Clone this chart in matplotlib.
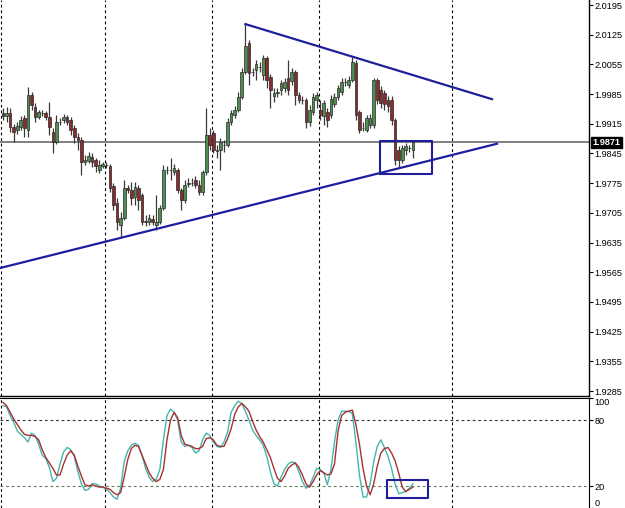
import matplotlib
matplotlib.use("Agg")
import matplotlib.pyplot as plt
import numpy as np

# --- price data (one candle per bar) ---
opens = [1.9940, 1.9933, 1.9940, 1.9907, 1.9900, 1.9907, 1.9929, 1.9900, 1.9983, 1.9955,
         1.9931, 1.9940, 1.9940, 1.9931, 1.9896, 1.9872, 1.9919, 1.9924, 1.9931, 1.9924,
         1.9905, 1.9884, 1.9877, 1.9825, 1.9827, 1.9837, 1.9830, 1.9806, 1.9816, 1.9818,
         1.9816, 1.9768, 1.9728, 1.9677, 1.9693, 1.9764, 1.9759, 1.9742, 1.9764, 1.9747,
         1.9686, 1.9684, 1.9691, 1.9677, 1.9684, 1.9717, 1.9806, 1.9806, 1.9801, 1.9806,
         1.9759, 1.9735, 1.9773, 1.9775, 1.9783, 1.9771, 1.9754, 1.9801, 1.9889, 1.9893,
         1.9853, 1.9853, 1.9865, 1.9865, 1.9919, 1.9936, 1.9948, 1.9978, 2.0037, 2.0105,
         2.0037, 2.0042, 2.0049, 2.0030, 2.0070, 2.0025, 1.9981, 1.9988, 1.9995, 1.9999,
         2.0023, 2.0016, 2.0037, 1.9983, 1.9971, 1.9971, 1.9919, 1.9943, 1.9971, 1.9948,
         1.9933, 1.9943, 1.9936, 1.9962, 1.9978, 1.9990, 2.0014, 2.0006, 2.0018, 2.0058,
         1.9943, 1.9905, 1.9900, 1.9912, 1.9912, 2.0018, 1.9995, 1.9988, 1.9971, 1.9971,
         1.9924, 1.9853, 1.9830, 1.9853, 1.9858, 1.9853]
closes = [1.9933, 1.9940, 1.9907, 1.9896, 1.9910, 1.9924, 1.9905, 1.9983, 1.9959, 1.9931,
          1.9943, 1.9941, 1.9931, 1.9907, 1.9872, 1.9919, 1.9920, 1.9931, 1.9919, 1.9900,
          1.9884, 1.9877, 1.9825, 1.9830, 1.9839, 1.9825, 1.9816, 1.9818, 1.9820, 1.9819,
          1.9764, 1.9724, 1.9684, 1.9693, 1.9764, 1.9759, 1.9740, 1.9766, 1.9735, 1.9684,
          1.9684, 1.9693, 1.9684, 1.9684, 1.9717, 1.9806, 1.9807, 1.9805, 1.9811, 1.9759,
          1.9735, 1.9771, 1.9775, 1.9776, 1.9771, 1.9754, 1.9801, 1.9889, 1.9865, 1.9853,
          1.9852, 1.9872, 1.9866, 1.9919, 1.9940, 1.9948, 1.9978, 2.0037, 2.0098, 2.0035,
          2.0036, 2.0056, 2.0048, 2.0070, 2.0018, 1.9995, 1.9988, 1.9989, 2.0011, 2.0014,
          1.9995, 2.0037, 1.9983, 1.9971, 1.9970, 1.9919, 1.9948, 1.9978, 1.9983, 1.9936,
          1.9964, 1.9924, 1.9973, 1.9978, 1.9999, 2.0014, 2.0013, 2.0018, 2.0061, 1.9936,
          1.9900, 1.9906, 1.9929, 1.9929, 2.0018, 1.9971, 1.9964, 1.9962, 1.9957, 1.9924,
          1.9830, 1.9830, 1.9858, 1.9863, 1.9859, 1.9871]
highs = [1.9952, 1.9955, 1.9952, 1.9915, 1.9919, 1.9933, 1.9936, 2.0002, 1.9990, 1.9964,
         1.9948, 1.9948, 1.9945, 1.9966, 1.9905, 1.9936, 1.9929, 1.9938, 1.9936, 1.9931,
         1.9912, 1.9893, 1.9884, 1.9841, 1.9849, 1.9846, 1.9834, 1.9830, 1.9825, 1.9825,
         1.9820, 1.9775, 1.9740, 1.9707, 1.9783, 1.9771, 1.9778, 1.9778, 1.9771, 1.9752,
         1.9700, 1.9702, 1.9700, 1.9747, 1.9724, 1.9818, 1.9816, 1.9834, 1.9820, 1.9811,
         1.9764, 1.9783, 1.9787, 1.9787, 1.9792, 1.9783, 1.9806, 1.9952, 1.9905, 1.9900,
         1.9865, 1.9882, 1.9877, 1.9929, 1.9948, 1.9957, 1.9990, 2.0047, 2.0150, 2.0113,
         2.0047, 2.0065, 2.0061, 2.0077, 2.0075, 2.0032, 1.9999, 1.9999, 2.0018, 2.0023,
         2.0065, 2.0047, 2.0042, 1.9990, 1.9981, 1.9976, 1.9959, 1.9988, 1.9990, 1.9971,
         1.9971, 1.9952, 1.9983, 1.9988, 2.0006, 2.0023, 2.0023, 2.0028, 2.0072, 2.0065,
         1.9948, 1.9919, 1.9936, 1.9938, 2.0023, 2.0023, 2.0004, 1.9995, 1.9981, 1.9981,
         1.9929, 1.9863, 1.9865, 1.9870, 1.9865, 1.9872]
lows = [1.9924, 1.9919, 1.9896, 1.9872, 1.9891, 1.9900, 1.9884, 1.9884, 1.9948, 1.9919,
        1.9926, 1.9933, 1.9924, 1.9889, 1.9846, 1.9867, 1.9912, 1.9917, 1.9912, 1.9889,
        1.9870, 1.9853, 1.9794, 1.9818, 1.9823, 1.9813, 1.9801, 1.9799, 1.9811, 1.9811,
        1.9754, 1.9712, 1.9665, 1.9648, 1.9688, 1.9752, 1.9724, 1.9724, 1.9712, 1.9677,
        1.9674, 1.9677, 1.9677, 1.9665, 1.9679, 1.9712, 1.9797, 1.9783, 1.9794, 1.9752,
        1.9712, 1.9728, 1.9766, 1.9768, 1.9764, 1.9747, 1.9747, 1.9794, 1.9853, 1.9846,
        1.9834, 1.9806, 1.9849, 1.9860, 1.9912, 1.9929, 1.9943, 1.9973, 2.0032, 2.0006,
        2.0028, 2.0018, 2.0037, 2.0018, 1.9999, 1.9952, 1.9966, 1.9978, 1.9983, 1.9990,
        1.9983, 2.0006, 1.9959, 1.9964, 1.9962, 1.9905, 1.9910, 1.9936, 1.9952, 1.9924,
        1.9912, 1.9907, 1.9929, 1.9955, 1.9971, 1.9983, 2.0004, 1.9999, 2.0014, 1.9924,
        1.9893, 1.9898, 1.9896, 1.9905, 1.9905, 1.9962, 1.9952, 1.9948, 1.9943, 1.9912,
        1.9818, 1.9813, 1.9823, 1.9841, 1.9849, 1.9834]

# stochastic oscillator, main (%K) and signal (%D)
stoch_main = [93, 92, 84, 78, 70, 67, 64, 60, 68, 66, 58, 48, 45, 37, 24, 27, 40, 51, 55, 53,
              47, 33, 22, 16, 17, 22, 22, 20, 19, 17, 14, 10, 8, 18, 42, 52, 57, 59, 57, 48,
              36, 28, 24, 26, 35, 62, 84, 90, 87, 80, 60, 56, 57, 55, 50, 52, 62, 68, 66, 60,
              56, 55, 60, 69, 87, 93, 97, 95, 88, 80, 71, 66, 62, 57, 47, 33, 22, 20, 28, 35,
              40, 42, 41, 33, 24, 18, 20, 28, 36, 35, 32, 21, 35, 60, 80, 88, 88, 88, 86, 60,
              30, 10, 10, 22, 42, 56, 62, 55, 47, 36, 22, 13, 14, 15, 18, 22]
stoch_signal = [96, 93, 87, 81, 76, 71, 67, 66, 66, 65, 62, 53, 46, 41, 36, 30, 30, 40, 48, 52,
                48, 38, 29, 21, 20, 21, 20, 19, 19, 18, 17, 14, 12, 14, 28, 44, 54, 57, 56, 48,
                40, 32, 27, 24, 26, 35, 62, 80, 87, 82, 66, 58, 57, 56, 54, 54, 56, 63, 64, 62,
                57, 56, 56, 63, 72, 85, 92, 95, 92, 88, 79, 71, 65, 60, 53, 46, 36, 27, 24, 29,
                36, 39, 41, 37, 30, 22, 19, 24, 30, 34, 32, 30, 31, 40, 70, 84, 87, 88, 89, 76,
                58, 36, 20, 12, 22, 38, 50, 54, 55, 50, 43, 32, 19, 15, 17, 19]

price_ticks = [2.0195, 2.0125, 2.0055, 1.9985, 1.9915, 1.9845, 1.9775, 1.9705,
               1.9635, 1.9565, 1.9495, 1.9425, 1.9355, 1.9285]
stoch_ticks = [0, 20, 80, 100]
stoch_levels = [80, 20]
last_price = 1.9871

# drawn objects (bar index, price)
lower_trend = ([-0.84, 138.6], [1.9575, 1.9868])
upper_trend = ([68, 137.2], [2.0150, 1.9973])
price_box = ([105.7, 120.3], [1.9797, 1.9874])
stoch_box = ([107.7, 119.2], [9.2, 25.4])
grid_bars = [-0.5, 28.5, 58.5, 88.7, 126.0]

plt.rcParams["font.family"] = ["Liberation Sans", "DejaVu Sans"]

W, H = 625, 508
fig = plt.figure(figsize=(W / 100, H / 100), dpi=100)
ax = fig.add_axes([0, 1 - 396 / H, 589 / W, 396 / H])
ax2 = fig.add_axes([0, 0, 589 / W, 110 / H])

xlim = (-0.84, 164.4)
bull, bear, blue = "#4e8f4e", "#8a2c2c", "#1f1f9c"

idx = np.arange(len(opens))
o, c = np.array(opens), np.array(closes)
ax.vlines(idx, lows, highs, color="#3a3a3a", lw=0.9, zorder=2)
cols = [bull if cc >= oo else bear for oo, cc in zip(o, c)]
ax.bar(idx, c - o, bottom=o, width=0.75, color=cols, edgecolor="#2a2a2a",
       linewidth=0.5, zorder=3)

ax.axhline(last_price, color="#808080", lw=1.4, zorder=1)
ax.plot(*lower_trend, color=blue, lw=1.6, zorder=4)
ax.plot(*upper_trend, color=blue, lw=1.6, zorder=4)
bx, by = price_box
ax.plot([bx[0], bx[1], bx[1], bx[0], bx[0]], [by[0], by[0], by[1], by[1], by[0]],
        color=blue, lw=1.5, zorder=4)

for g in grid_bars:
    ax.axvline(g, color="black", lw=0.8, ls=(0, (2.5, 2.5)), zorder=0)
    ax2.axvline(g, color="black", lw=0.8, ls=(0, (2.5, 2.5)), zorder=0)

ax.set_xlim(*xlim)
ax.set_ylim(2.0195 - 391 * 0.0002357, 2.0195 + 5 * 0.0002357)
ax.set_xticks([])
ax.yaxis.tick_right()
ax.set_yticks(price_ticks)
ax.set_yticklabels([f"{t:.4f}" for t in price_ticks])
ax.tick_params(axis="y", direction="out", length=3, width=0.8, pad=1, labelsize=6.6)
for s in ["top", "left"]:
    ax.spines[s].set_visible(False)
ax.spines["right"].set_linewidth(1.0)
ax.spines["bottom"].set_linewidth(1.0)

ax.annotate(f"{last_price:.4f}", xy=(1.0, last_price), xycoords=("axes fraction", "data"),
            xytext=(2.5, 0), textcoords="offset points", va="center", ha="left",
            fontsize=6.6, color="white", fontweight="bold",
            bbox=dict(boxstyle="square,pad=0.12", fc="black", ec="black"),
            annotation_clip=False)

# stochastic panel
ax2.plot(idx, stoch_signal, color="#a83030", lw=1.0, zorder=3)
ax2.plot(idx, stoch_main, color="#45b5ac", lw=1.0, zorder=2)
ax2.axhline(stoch_levels[0], color="#333333", lw=0.8, ls=(0, (2.5, 2.5)), zorder=0)
ax2.axhline(stoch_levels[1], color="#5c7c5c", lw=0.8, ls=(0, (2.5, 2.5)), zorder=0)
sx, sy = stoch_box
ax2.plot([sx[0], sx[1], sx[1], sx[0], sx[0]], [sy[0], sy[0], sy[1], sy[1], sy[0]],
         color=blue, lw=1.5, zorder=4)
ax2.set_xlim(*xlim)
ax2.set_ylim(0, 100)
ax2.set_xticks([])
ax2.yaxis.tick_right()
ax2.set_yticks(stoch_ticks)
ax2.set_yticklabels([str(t) for t in stoch_ticks])
ax2.tick_params(axis="y", direction="out", length=3, width=0.8, pad=1, labelsize=6.6)
labs = ax2.get_yticklabels()
labs[0].set_va("bottom")
labs[-1].set_va("top")
for s in ["bottom", "left"]:
    ax2.spines[s].set_visible(False)

fig.savefig("out.png", dpi=100)
